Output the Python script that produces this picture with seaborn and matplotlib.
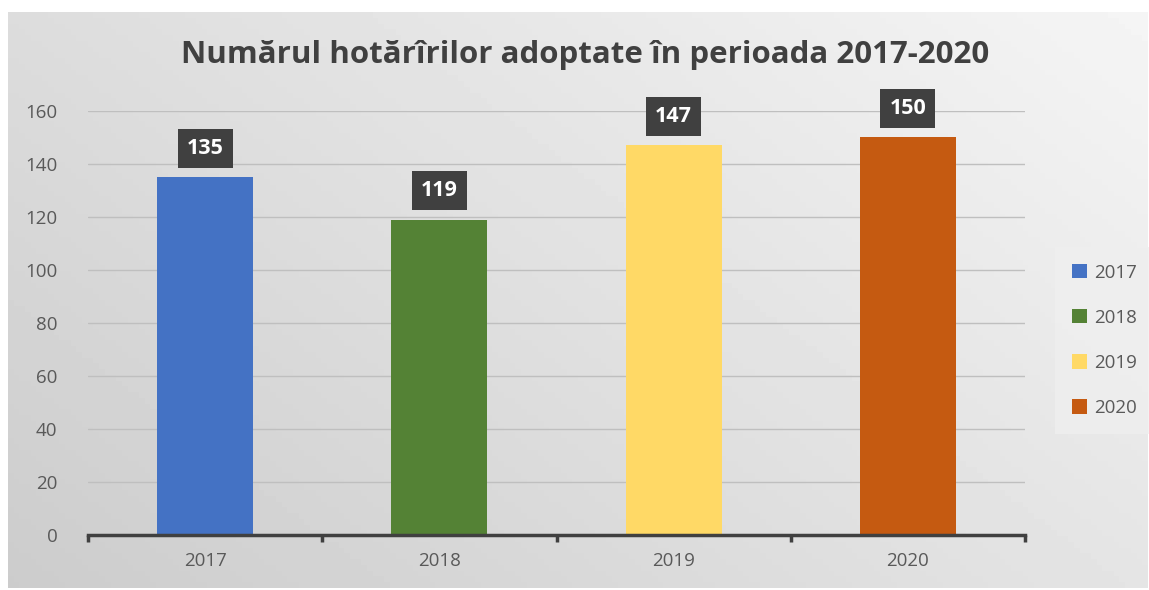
import numpy as np
import pandas as pd
import seaborn as sns
import matplotlib.pyplot as plt

# Data
years = ["2017", "2018", "2019", "2020"]
counts = [135, 119, 147, 150]
colors = ["#4472C4", "#548235", "#FFD966", "#C55A11"]

df = pd.DataFrame({"an": years, "hotarari": counts})

sns.set_theme(style="white")
plt.rcParams["font.family"] = ["Open Sans", "DejaVu Sans"]

fig = plt.figure(figsize=(11.49, 5.9), dpi=100)
fig.patch.set_facecolor("white")

# gradient background of the chart box
bg = fig.add_axes([8 / 1149, 2 / 590, 1140 / 1149, 576 / 590])
gx, gy = np.meshgrid(np.linspace(0, 1, 200), np.linspace(0, 1, 100))
grad = 0.80 + 0.16 * (0.6 * gx + 0.4 * gy)
bg.imshow(grad, cmap="gray", vmin=0, vmax=1, aspect="auto", origin="lower",
          extent=[0, 1, 0, 1])
bg.set_axis_off()

ax = fig.add_axes([88 / 1149, 55 / 590, 937 / 1149, 424 / 590])
ax.patch.set_alpha(0)

sns.barplot(data=df, x="an", y="hotarari", hue="an", palette=colors,
            width=0.41, dodge=False, legend=True, ax=ax, saturation=1,
            linewidth=0, edgecolor="none")

ax.set_ylim(0, 160)
ax.set_yticks(range(0, 161, 20))
ax.yaxis.grid(True, color="#bfbfbf", linewidth=1)
ax.set_axisbelow(True)
ax.set_xlabel("")
ax.set_ylabel("")
for s in ["top", "right", "left"]:
    ax.spines[s].set_visible(False)
ax.spines["bottom"].set_color("#404040")
ax.spines["bottom"].set_linewidth(2.5)
ax.tick_params(axis="y", length=0, labelsize=13.5, labelcolor="#595959", pad=22)
ax.tick_params(axis="x", length=0, labelsize=13.5, labelcolor="#595959", pad=12)

# ticks at category borders on the x axis
ax.set_xlim(-0.5, 3.5)
for b in [-0.5, 0.5, 1.5, 2.5, 3.5]:
    ax.plot([b, b], [0, -2.5], color="#404040", lw=2.5, clip_on=False,
            solid_capstyle="butt")

# value labels
for i, v in enumerate(counts):
    ax.text(i, v + 7, str(v), ha="center", va="bottom", fontsize=15.5,
            fontweight="bold", color="white",
            bbox=dict(boxstyle="square,pad=0.42", fc="#404040", ec="none"))

fig.text(585 / 1149, 1 - 55 / 590,
         "Numărul hotărîrilor adoptate în perioada 2017-2020",
         ha="center", va="center", fontsize=22.5, fontweight="bold",
         color="#404040")

leg = ax.legend(loc="center left", bbox_to_anchor=(1.028, 0.459), frameon=True,
                fontsize=13.5, handlelength=0.8, handleheight=0.8,
                labelspacing=1.45, borderpad=0.6, handletextpad=0.4)
leg.get_frame().set_facecolor("#efefef")
leg.get_frame().set_edgecolor("none")
leg.get_frame().set_boxstyle("square")
for t in leg.get_texts():
    t.set_color("#595959")

fig.savefig("out.png", dpi=100)
